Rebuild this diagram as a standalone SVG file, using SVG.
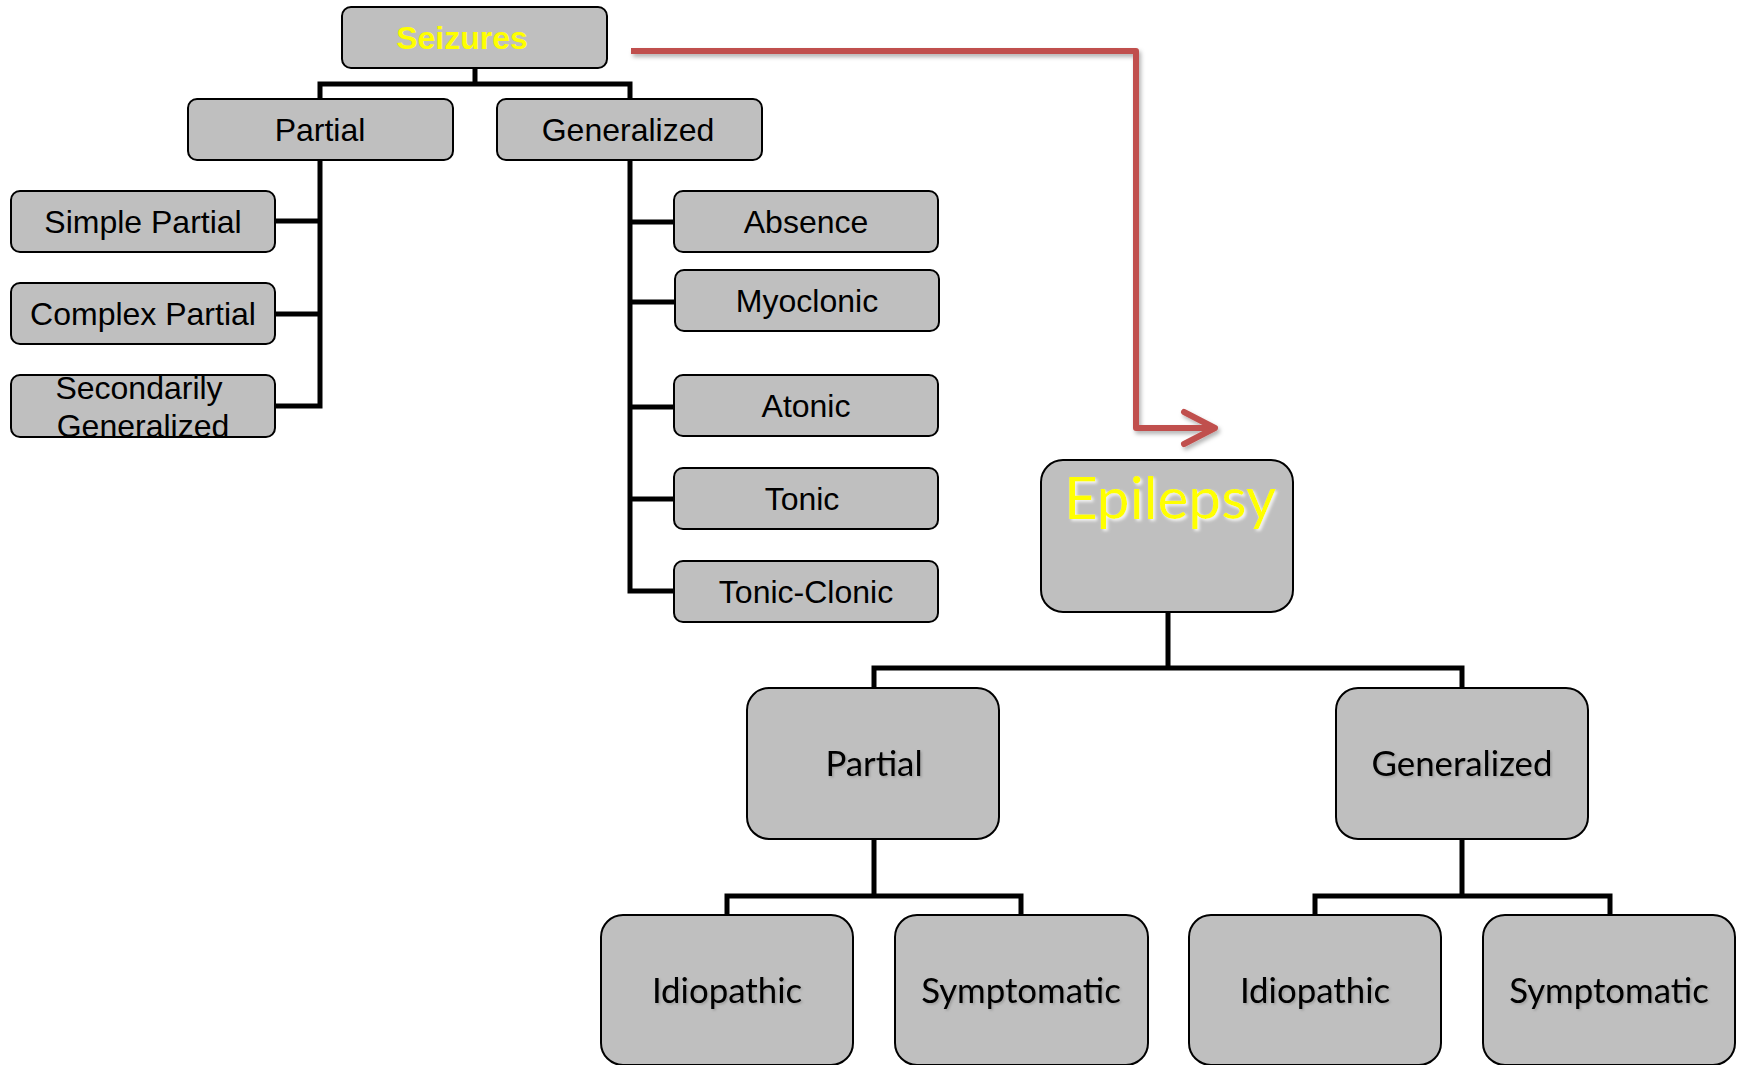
<svg xmlns="http://www.w3.org/2000/svg" width="1741" height="1065" viewBox="0 0 1741 1065">
<defs>
<style>
.box{fill:#BFBFBF;stroke:#000;stroke-width:2}
.t{font-family:"Liberation Sans",Arial,sans-serif;font-size:32px;fill:#000;text-anchor:middle}
.tb{font-family:"Liberation Sans",Arial,sans-serif;font-size:32px;font-weight:bold;fill:#FFFF00;text-anchor:middle}
.c{font-family:Lato,"Noto Sans",sans-serif;font-size:34.8px;fill:#000;text-anchor:middle;filter:url(#ts)}
.ep{font-family:Lato,"Noto Sans",sans-serif;font-size:58.5px;fill:#FFFF00;text-anchor:middle;filter:url(#glow)}
.con{fill:none;stroke:#000;stroke-width:5;stroke-linejoin:miter}
.red{fill:none;stroke:#C0504D;stroke-width:6;stroke-linejoin:round;filter:url(#sh)}
</style>
<filter id="ts" x="-10%" y="-20%" width="130%" height="150%">
<feDropShadow dx="1.5" dy="1.5" stdDeviation="1" flood-color="#000" flood-opacity="0.18"/>
</filter>
<filter id="glow" x="-10%" y="-20%" width="130%" height="150%">
<feDropShadow dx="2" dy="2" stdDeviation="1.5" flood-color="#fff" flood-opacity="0.8"/>
</filter>
<filter id="sh" x="-5%" y="-5%" width="110%" height="120%">
<feDropShadow dx="2" dy="3" stdDeviation="2" flood-color="#000" flood-opacity="0.3"/>
</filter>
<marker id="chev" markerUnits="userSpaceOnUse" markerWidth="50" markerHeight="50" refX="0" refY="0" viewBox="-40 -25 50 50" orient="auto" overflow="visible">
<path d="M-31,-16 L0,0 L-31,16" fill="none" stroke="#C0504D" stroke-width="6" stroke-linecap="round" stroke-linejoin="round"/>
</marker>
</defs>
<rect width="1741" height="1065" fill="#fff"/>

<g id="connectors">
<path class="con" d="M320,99 V84 H630 V99 M475,68 V84"/>
<path class="con" d="M320,160 V406 H275 M275,221 H320 M275,314 H320"/>
<path class="con" d="M630,160 V591 H674 M630,222 H674 M630,302 H675 M630,407 H674 M630,499 H674"/>
<path class="con" d="M1168,612 V668 M874,688 V668 H1462 V688"/>
<path class="con" d="M874,839 V896 M727,915 V896 H1021 V915"/>
<path class="con" d="M1462,839 V896 M1315,915 V896 H1610 V915"/>
<path class="red" d="M631,51 H1136 V428 H1215" marker-end="url(#chev)"/>
</g>

<g id="seizures"><rect class="box" x="342" y="7" width="265" height="61" rx="9"/><text class="tb" x="462" y="49">Seizures</text></g>
<g id="partial-top"><rect class="box" x="188" y="99" width="265" height="61" rx="9"/><text class="t" x="320" y="141">Partial</text></g>
<g id="generalized-top"><rect class="box" x="497" y="99" width="265" height="61" rx="9"/><text class="t" x="628" y="141">Generalized</text></g>
<g id="simple-partial"><rect class="box" x="11" y="191" width="264" height="61" rx="9"/><text class="t" x="143" y="233">Simple Partial</text></g>
<g id="complex-partial"><rect class="box" x="11" y="283" width="264" height="61" rx="9"/><text class="t" x="143" y="325">Complex Partial</text></g>
<g id="secondarily-generalized"><rect class="box" x="11" y="375" width="264" height="62" rx="9"/><text class="t" x="139" y="399">Secondarily</text><text class="t" x="143" y="437">Generalized</text></g>
<g id="absence"><rect class="box" x="674" y="191" width="264" height="61" rx="9"/><text class="t" x="806" y="233">Absence</text></g>
<g id="myoclonic"><rect class="box" x="675" y="270" width="264" height="61" rx="9"/><text class="t" x="807" y="312">Myoclonic</text></g>
<g id="atonic"><rect class="box" x="674" y="375" width="264" height="61" rx="9"/><text class="t" x="806" y="417">Atonic</text></g>
<g id="tonic"><rect class="box" x="674" y="468" width="264" height="61" rx="9"/><text class="t" x="802" y="510">Tonic</text></g>
<g id="tonic-clonic"><rect class="box" x="674" y="561" width="264" height="61" rx="9"/><text class="t" x="806" y="603">Tonic-Clonic</text></g>

<g id="epilepsy"><rect class="box" x="1041" y="460" width="252" height="152" rx="22"/><text class="ep" x="1170" y="519">Epilepsy</text></g>
<g id="partial-epi"><rect class="box" x="747" y="688" width="252" height="151" rx="22"/><text class="c" x="874" y="776">Partial</text></g>
<g id="generalized-epi"><rect class="box" x="1336" y="688" width="252" height="151" rx="22"/><text class="c" x="1462" y="776">Generalized</text></g>
<g id="idiopathic-1"><rect class="box" x="601" y="915" width="252" height="150" rx="22"/><text class="c" x="727" y="1003">Idiopathic</text></g>
<g id="symptomatic-1"><rect class="box" x="895" y="915" width="253" height="150" rx="22"/><text class="c" x="1021" y="1003">Symptomatic</text></g>
<g id="idiopathic-2"><rect class="box" x="1189" y="915" width="252" height="150" rx="22"/><text class="c" x="1315" y="1003">Idiopathic</text></g>
<g id="symptomatic-2"><rect class="box" x="1483" y="915" width="252" height="150" rx="22"/><text class="c" x="1609" y="1003">Symptomatic</text></g>
</svg>
